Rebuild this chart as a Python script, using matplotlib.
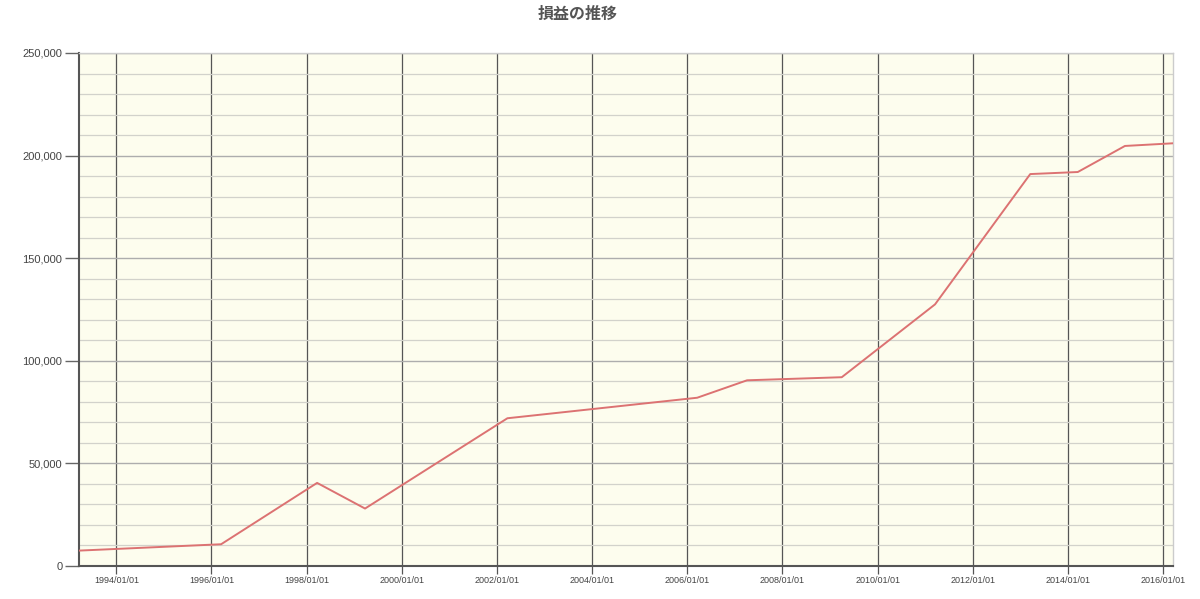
import numpy as np
import pandas as pd
import matplotlib
matplotlib.use("Agg")
import matplotlib.pyplot as plt
import matplotlib.dates as mdates
from matplotlib.ticker import MultipleLocator, FuncFormatter

plt.rcParams['font.family'] = ['Noto Sans CJK JP', 'DejaVu Sans']

# data (roughly one point per year, around late March)
dates = pd.to_datetime([
    "1993-03-20", "1996-03-15", "1998-03-22", "1999-03-25", "2002-03-22",
    "2006-03-18", "2007-04-05", "2009-04-01", "2011-03-18", "2013-03-18",
    "2014-03-18", "2015-03-15", "2016-03-18",
])
profit = [7500, 10600, 40500, 28000, 72000,
          82000, 90500, 92000, 127500, 191000,
          192000, 204700, 206000]

x_start = pd.Timestamp("1993-03-20")
x_end = pd.Timestamp("2016-03-18")

fig = plt.figure(figsize=(12, 5.99), dpi=100)
ax = fig.add_axes([79 / 1200, 33 / 599, (1173 - 79) / 1200, (566 - 53) / 599])
ax.set_facecolor("#fdfdee")

ax.plot(dates, profit, color="#dc7272", lw=1.4, zorder=3)

ax.set_xlim(x_start, x_end)
ax.set_ylim(0, 250000)

ax.xaxis.set_major_locator(mdates.YearLocator(2, month=1, day=1))
ax.xaxis.set_major_formatter(mdates.DateFormatter("%Y/%m/%d"))
ax.yaxis.set_major_locator(MultipleLocator(50000))
ax.yaxis.set_minor_locator(MultipleLocator(10000))
ax.yaxis.set_major_formatter(FuncFormatter(lambda v, p: f"{int(v):,}"))

ax.grid(True, axis="x", which="major", color="#555555", lw=0.9, zorder=1)
ax.grid(True, axis="y", which="major", color="#adadad", lw=1.0, zorder=1)
ax.grid(True, axis="y", which="minor", color="#d2d2cb", lw=0.9, zorder=1)

ax.tick_params(axis="y", which="major", length=10, width=1, color="#666666",
               labelsize=8, labelcolor="#444444", pad=2)
ax.tick_params(axis="y", which="minor", length=0)
ax.tick_params(axis="x", which="major", length=6, width=0.9, color="#555555",
               labelsize=6.5, labelcolor="#444444", pad=1)
for lbl in ax.get_xticklabels() + ax.get_yticklabels():
    lbl.set_family(["Liberation Sans", "DejaVu Sans"])

for side in ["left", "bottom"]:
    ax.spines[side].set_color("#555555")
    ax.spines[side].set_linewidth(1.5)
for side in ["top", "right"]:
    ax.spines[side].set_color("#cccccc")
    ax.spines[side].set_linewidth(1.0)

fig.text(578 / 1200, 1 - 14 / 599, "損益の推移", ha="center", va="center",
         fontsize=11.5, fontweight="bold", color="#555555")

fig.savefig("out.png", dpi=100)
